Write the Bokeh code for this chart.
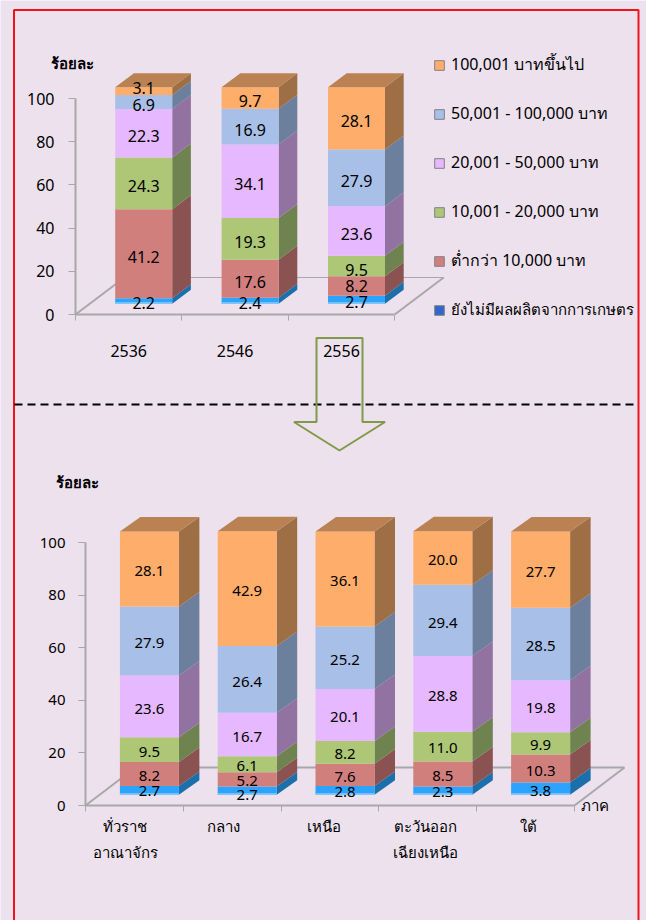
from bokeh.plotting import figure
from bokeh.models import (Range1d, LinearAxis, FixedTicker, Legend, LegendItem)
from bokeh.embed import file_html
from bokeh.resources import INLINE
from bokeh.core.properties import value

# ---------- data ----------
years = ["2536", "2546", "2556"]
regions = ["ทั่วราช\nอาณาจักร", "กลาง", "เหนือ", "ตะวันออก\nเฉียงเหนือ", "ใต้"]
series_names = ["ยังไม่มีผลผลิตจากการเกษตร", "ต่ำกว่า 10,000 บาท", "10,001 - 20,000 บาท",
                "20,001 - 50,000 บาท", "50,001 - 100,000 บาท", "100,001 บาทขึ้นไป"]

# printed values
year_none = [2.2, 2.4, 2.7]
year_lt10k = [41.2, 17.6, 8.2]
year_10_20 = [24.3, 19.3, 9.5]
year_20_50 = [22.3, 34.1, 23.6]
year_50_100 = [6.9, 16.9, 27.9]
year_100up = [3.1, 9.7, 28.1]

region_none = [2.7, 2.7, 2.8, 2.3, 3.8]
region_lt10k = [8.2, 5.2, 7.6, 8.5, 10.3]
region_10_20 = [9.5, 6.1, 8.2, 11.0, 9.9]
region_20_50 = [23.6, 16.7, 20.1, 28.8, 19.8]
region_50_100 = [27.9, 26.4, 25.2, 29.4, 28.5]
region_100up = [28.1, 42.9, 36.1, 20.0, 27.7]

# bar heights (they differ a little from the printed values)
year_none_h = [2.6, 2.8, 3.7]
year_lt10k_h = [41.2, 17.6, 9.1]
year_10_20_h = [23.9, 19.3, 9.4]
year_20_50_h = [22.5, 34.1, 23.0]
year_50_100_h = [6.5, 16.5, 26.2]
year_100up_h = [3.5, 10.0, 28.8]

region_none_h = [3.3, 3.2, 3.3, 3.2, 4.7]
region_lt10k_h = [9.2, 5.4, 8.5, 9.5, 10.6]
region_10_20_h = [9.4, 6.1, 8.7, 11.3, 8.5]
region_20_50_h = [23.5, 16.5, 19.7, 28.8, 19.8]
region_50_100_h = [26.2, 25.4, 23.8, 27.1, 27.5]
region_100up_h = [28.5, 43.6, 36.1, 20.3, 29.0]

y_ticks = [0, 20, 40, 60, 80, 100]

# ---------- style ----------
BG = "#EDE1EE"
FONT = "Noto Sans"
FRONT = ["#2BA3FF", "#D17F7D", "#ADC777", "#E6B8FF", "#A8BFE8", "#FFAD6B"]
SIDE = ["#1B6FAA", "#8A5250", "#6F8350", "#9172A0", "#6C7F9C", "#9E6F45"]
TOPFACE = "#BA8253"
LEGEND_COL = ["#3366CC", "#D17F7D", "#ADC777", "#E6B8FF", "#A8BFE8", "#FFAD6B"]
AXIS = "#A8A8A8"

PX0, PX1, PY0, PY1 = 0, 646, 0, 920


def ranges(x0, xs, y0, ys):
    return (Range1d((PX0 - x0) / xs, (PX1 - x0) / xs),
            Range1d((y0 - PY1) / ys, (y0 - PY0) / ys))


# top chart scale: axis origin (75,314), 106.4 px per category, 2.16 px per percent
T = dict(x0=75.0, xs=106.4, y0=314.0, ys=2.16)
# bottom chart scale: axis origin (85,805), 97.8 px per category, 2.63 px per percent
B = dict(x0=85.0, xs=97.8, y0=805.0, ys=2.63)

xr, yr = ranges(**T)
xb, yb = ranges(**B)

p = figure(width=646, height=920, x_range=xr, y_range=yr, x_axis_location=None, y_axis_location=None,
           toolbar_location=None, output_backend="svg", min_border=0,
           background_fill_color=BG, border_fill_color=BG, outline_line_color=None)
p.grid.visible = False
p.extra_x_ranges = {"bx": xb}
p.extra_y_ranges = {"by": yb}


def tx(S, px):
    return (px - S["x0"]) / S["xs"]


def ty(S, py):
    return (S["y0"] - py) / S["ys"]


def style_axis(ax, fs):
    ax.axis_line_color = AXIS
    ax.axis_line_width = 2
    ax.major_tick_line_color = AXIS
    ax.minor_tick_line_color = AXIS
    ax.major_label_text_font = FONT
    ax.major_label_text_font_size = fs
    ax.major_label_text_color = "#000000"


def draw_chart(S, printed, heights, labels, label_pos, x_name, y_name, shift_px, width_px, dx_px, dy_px, base_px,
               floor_dx, floor_dy, y_standoff, x_standoff, label_y_px, value_fs, tick_fs, back_w):
    kw = dict(x_range_name=x_name, y_range_name=y_name)
    n = len(labels)
    shift, width, dx = shift_px / S["xs"], width_px / S["xs"], dx_px / S["xs"]
    dy, base = dy_px / S["ys"], base_px / S["ys"]
    fdx, fdy = floor_dx / S["xs"], floor_dy / S["ys"]

    # floor
    p.multi_line([[0, fdx], [n, n + fdx], [fdx, n + fdx]], [[0, fdy], [0, fdy], [fdy, fdy]],
                 line_color=AXIS, line_width=[2, 2, back_w], **kw)

    centers = [i + 0.5 + shift for i in range(n)]
    cum = [base] * n
    for k, vals in enumerate(heights):
        bottoms = list(cum)
        tops = [b + v for b, v in zip(bottoms, vals)]
        xs_side, ys_side = [], []
        for c, b, t in zip(centers, bottoms, tops):
            r = c + width / 2
            xs_side.append([r, r + dx, r + dx, r])
            ys_side.append([b, b + dy, t + dy, t])
        p.patches(xs_side, ys_side, fill_color=SIDE[k], line_color=None, **kw)
        p.vbar(x=centers, bottom=bottoms, top=tops, width=width, fill_color=FRONT[k], line_color=None, **kw)
        cum = tops
    # lighter strip at the foot of the bars
    p.vbar(x=centers, bottom=[base] * n, top=[base + 1.5 / S["ys"]] * n, width=width,
           fill_color="#8CCBFA", line_color=None, **kw)
    # top faces
    xs_top, ys_top = [], []
    for c, t in zip(centers, cum):
        l, r = c - width / 2, c + width / 2
        xs_top.append([l, r, r + dx, l + dx])
        ys_top.append([t, t, t + dy, t + dy])
    p.patches(xs_top, ys_top, fill_color=TOPFACE, line_color=None, **kw)

    # value labels
    tx_, ty_, tt = [], [], []
    for k, vals in enumerate(printed):
        for i, v in enumerate(vals):
            tx_.append(centers[i])
            ty_.append(ty(S, label_y_px[k][i]))
            tt.append(f"{v:.1f}")
    p.text(x=tx_, y=ty_, text=tt, text_align="center", text_baseline="middle", text_color="#000000",
           text_font=value(FONT), text_font_size=value_fs, **kw)

    # axes
    ya = LinearAxis(ticker=FixedTicker(ticks=y_ticks), fixed_location=0, bounds=(0, 100),
                    x_range_name=x_name, y_range_name=y_name)
    style_axis(ya, tick_fs)
    ya.major_tick_out = 7
    ya.major_tick_in = 0
    ya.minor_tick_out = 0
    ya.minor_tick_in = 0
    ya.major_label_standoff = y_standoff
    p.add_layout(ya, "left")

    xa = LinearAxis(ticker=FixedTicker(ticks=label_pos, minor_ticks=list(range(n + 1))),
                    fixed_location=0, bounds=(0, n), x_range_name=x_name, y_range_name=y_name)
    style_axis(xa, tick_fs)
    xa.major_tick_out = 0
    xa.major_tick_in = 0
    xa.minor_tick_out = 6
    xa.minor_tick_in = 0
    xa.major_label_standoff = x_standoff
    xa.major_label_overrides = {pos: lab for pos, lab in zip(label_pos, labels)}
    xa.major_label_text_line_height = 1.3
    p.add_layout(xa, "below")


# where the value labels sit, page pixels, per series (bottom to top) and per bar
top_label_y = [[302, 302.7, 301], [256, 281.7, 285], [185.3, 241, 269.3],
               [135, 183, 233.7], [104, 129, 180], [87.5, 100, 120.3]]
bot_label_y = [[790.7, 794.3, 791.7, 791.7, 790], [775.7, 780.7, 776.7, 775.7, 770],
               [751, 765.7, 753.3, 747.7, 744.3], [708.7, 736.7, 716.7, 695.7, 707.7],
               [642.3, 681.7, 659.7, 622.7, 645.7], [570.7, 590.7, 580.3, 559.7, 571.3]]

draw_chart(T, [year_none, year_lt10k, year_10_20, year_20_50, year_50_100, year_100up],
           [year_none_h, year_lt10k_h, year_10_20_h, year_20_50_h, year_50_100_h, year_100up_h], years,
           [0.5, 1.5, 2.5], "default", "default", 15, 57, 18.7, 14, 10.7, 49, 37, 14, 24,
           top_label_y, "16px", "16px", 1.2)
draw_chart(B, [region_none, region_lt10k, region_10_20, region_20_50, region_50_100, region_100up],
           [region_none_h, region_lt10k_h, region_10_20_h, region_20_50_h, region_50_100_h, region_100up_h], regions,
           [0.404, 1.411, 2.434, 3.473, 4.525], "bx", "by", 15.0, 59, 20.5, 14.5, 10.7, 50, 38, 13, 4,
           bot_label_y, "15px", "15px", 2)

# page frame
p.line([tx(T, v) for v in [13.5, 13.5, 638, 638]], [ty(T, v) for v in [920, 9.5, 9.5, 920]],
       line_color="#F2121C", line_width=2)

# free texts
p.text(x=[tx(T, 72)], y=[ty(T, 62)], text=["ร้อยละ"], text_align="center", text_baseline="middle",
       text_font=value(FONT), text_font_size="15px", text_font_style="bold")
p.text(x=[tx(T, 77)], y=[ty(T, 481)], text=["ร้อยละ"], text_align="center", text_baseline="middle",
       text_font=value(FONT), text_font_size="15px", text_font_style="bold")
p.text(x=[tx(T, 594)], y=[ty(T, 804)], text=["ภาค"], text_align="center", text_baseline="middle",
       text_font=value(FONT), text_font_size="15px")

# dashed divider
p.line([tx(T, 14), tx(T, 638)], [ty(T, 404)] * 2, line_color="#000000", line_width=2, line_dash="8 5")

# arrow
ax_ = [316, 362, 362, 384.5, 339, 293.5, 316]
ay_ = [337.5, 337.5, 421.5, 421.5, 450, 421.5, 421.5]
p.patch([tx(T, v) for v in ax_], [ty(T, v) for v in ay_], fill_alpha=0, line_color="#7F9A48", line_width=2)

# legends (proxy swatches carry the legend colours)
items = []
for name, col in zip(series_names, LEGEND_COL):
    r = p.vbar(x=[0], bottom=[0], top=[0], width=0, fill_color=col, line_color="#808080", line_alpha=1)
    items.append((name, r))
common = dict(orientation="vertical", padding=0, margin=0, glyph_width=12, glyph_height=12, label_standoff=6,
              label_text_font=FONT, label_text_color="#000000", background_fill_alpha=0, border_line_color=None)
legend = Legend(items=[LegendItem(label=value(n), renderers=[r]) for n, r in reversed(items[1:])],
                location=(433, 647), spacing=24, label_text_font_size="16px", **common)
legend2 = Legend(items=[LegendItem(label=value(items[0][0]), renderers=[items[0][1]])],
                 location=(433, 598), label_text_font_size="15px", **common)
p.add_layout(legend, "center")
p.add_layout(legend2, "center")

open("out.html", "w").write(file_html(p, INLINE))
